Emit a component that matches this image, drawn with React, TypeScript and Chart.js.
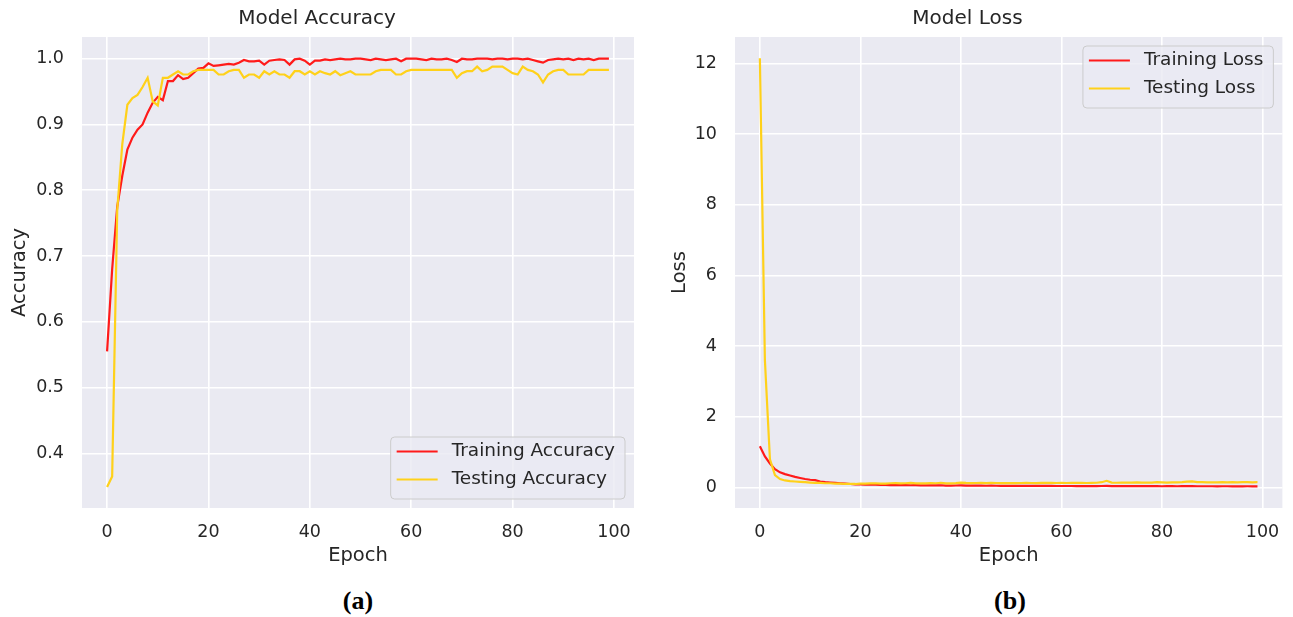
import React, { useEffect, useRef } from 'react';
import { Chart, registerables } from 'chart.js';

Chart.register(...registerables);

// ---------- data ----------
const epochs: number[] = Array.from({ length: 100 }, (_, i) => i);

const trainAcc: number[] = [
  0.555, 0.68, 0.775, 0.822, 0.862, 0.88, 0.892, 0.9, 0.918, 0.933,
  0.942, 0.937, 0.966, 0.966, 0.975, 0.969, 0.971, 0.978, 0.985, 0.986,
  0.993, 0.989, 0.99, 0.991, 0.992, 0.991, 0.994, 0.998, 0.996, 0.996,
  0.997, 0.991, 0.997, 0.998, 0.999, 0.998, 0.991, 0.999, 1.0, 0.997,
  0.991, 0.997, 0.997, 0.999, 0.998, 0.999, 1.0, 0.999, 0.999, 1.0,
  1.0, 0.999, 0.998, 1.0, 0.999, 0.998, 0.999, 1.0, 0.996, 1.0,
  1.0, 1.0, 0.999, 0.998, 1.0, 0.999, 0.999, 1.0, 0.998, 0.995,
  1.0, 0.999, 0.999, 1.0, 1.0, 1.0, 0.999, 1.0, 1.0, 0.999,
  1.0, 1.0, 0.999, 1.0, 0.998, 0.996, 0.994, 0.998, 0.999, 1.0,
  0.999, 1.0, 0.998, 1.0, 0.999, 1.0, 0.998, 1.0, 1.0, 1.0,
];

const testAcc: number[] = [
  0.349, 0.365, 0.77, 0.87, 0.93, 0.94, 0.945, 0.957, 0.971, 0.935,
  0.929, 0.971, 0.971, 0.976, 0.981, 0.976, 0.976, 0.981, 0.983, 0.983,
  0.983, 0.983, 0.976, 0.976, 0.981, 0.983, 0.983, 0.971, 0.976, 0.976,
  0.971, 0.981, 0.976, 0.981, 0.976, 0.976, 0.971, 0.981, 0.981, 0.976,
  0.981, 0.976, 0.981, 0.978, 0.976, 0.981, 0.975, 0.978, 0.981, 0.976,
  0.976, 0.976, 0.976, 0.981, 0.983, 0.983, 0.983, 0.976, 0.976, 0.981,
  0.983, 0.983, 0.983, 0.983, 0.983, 0.983, 0.983, 0.983, 0.983, 0.971,
  0.978, 0.981, 0.981, 0.988, 0.981, 0.983, 0.988, 0.988, 0.988, 0.983,
  0.978, 0.976, 0.988, 0.983, 0.981, 0.976, 0.964, 0.976, 0.981, 0.983,
  0.983, 0.976, 0.976, 0.976, 0.976, 0.983, 0.983, 0.983, 0.983, 0.983,
];

const trainLoss: number[] = [
  1.17, 0.88, 0.68, 0.52, 0.43, 0.38, 0.34, 0.3, 0.27, 0.24,
  0.22, 0.21, 0.17, 0.15, 0.14, 0.13, 0.12, 0.11, 0.1, 0.09,
  0.085, 0.082, 0.08, 0.078, 0.075, 0.076, 0.07, 0.068, 0.07, 0.066,
  0.064, 0.068, 0.062, 0.06, 0.061, 0.058, 0.064, 0.056, 0.055, 0.057,
  0.062, 0.055, 0.054, 0.052, 0.053, 0.05, 0.051, 0.05, 0.049, 0.048,
  0.047, 0.048, 0.05, 0.046, 0.047, 0.046, 0.045, 0.044, 0.047, 0.043,
  0.042, 0.043, 0.042, 0.041, 0.043, 0.04, 0.041, 0.04, 0.042, 0.046,
  0.039, 0.04, 0.039, 0.038, 0.038, 0.039, 0.037, 0.038, 0.037, 0.038,
  0.036, 0.037, 0.038, 0.036, 0.037, 0.039, 0.041, 0.036, 0.035, 0.035,
  0.036, 0.034, 0.035, 0.036, 0.034, 0.033, 0.034, 0.035, 0.033, 0.033,
];

const testLoss: number[] = [
  12.15, 3.6, 0.8, 0.35, 0.24, 0.2, 0.18, 0.17, 0.16, 0.15,
  0.14, 0.13, 0.13, 0.12, 0.12, 0.11, 0.11, 0.1, 0.1, 0.1,
  0.11, 0.11, 0.115, 0.12, 0.11, 0.108, 0.12, 0.125, 0.118, 0.12,
  0.13, 0.115, 0.12, 0.118, 0.125, 0.12, 0.135, 0.115, 0.118, 0.125,
  0.14, 0.13, 0.125, 0.128, 0.132, 0.125, 0.13, 0.128, 0.122, 0.125,
  0.126, 0.125, 0.128, 0.13, 0.127, 0.125, 0.132, 0.135, 0.13, 0.128,
  0.13, 0.128, 0.13, 0.132, 0.13, 0.128, 0.13, 0.135, 0.15, 0.19,
  0.14, 0.135, 0.14, 0.138, 0.14, 0.145, 0.14, 0.142, 0.14, 0.15,
  0.145, 0.14, 0.148, 0.145, 0.15, 0.165, 0.175, 0.155, 0.15, 0.148,
  0.145, 0.148, 0.15, 0.145, 0.15, 0.148, 0.152, 0.15, 0.148, 0.15,
];

const xTicks: number[] = [0, 20, 40, 60, 80, 100];
const accTicks: number[] = [0.4, 0.5, 0.6, 0.7, 0.8, 0.9, 1.0];
const lossTicks: number[] = [0, 2, 4, 6, 8, 10, 12];

const accLabels: string[] = ['Training Accuracy', 'Testing Accuracy'];
const lossLabels: string[] = ['Training Loss', 'Testing Loss'];

// ---------- style ----------
const BG = '#EAEAF2';
const TEXT = '#262626';
const FONT = '"DejaVu Sans", sans-serif';
const RED = '#ff1a1a';
const GOLD = '#ffd11a';

const bgPlugin = {
  id: 'axesBg',
  beforeDraw(chart: any) {
    const { ctx, chartArea } = chart;
    if (!chartArea) return;
    ctx.save();
    ctx.fillStyle = BG;
    ctx.fillRect(chartArea.left, chartArea.top, chartArea.right - chartArea.left, chartArea.bottom - chartArea.top);
    ctx.restore();
  },
};

const legendPlugin = {
  id: 'insideLegend',
  afterDatasetsDraw(chart: any, _args: any, opts: any) {
    const { ctx, chartArea } = chart;
    const fontSize = opts.fontSize || 18.5;
    ctx.save();
    ctx.font = `${fontSize}px ${FONT}`;
    const items = chart.data.datasets.map((ds: any) => ({ label: ds.label, color: ds.borderColor }));
    const textW = Math.max(...items.map((i: any) => ctx.measureText(i.label).width));
    const padL = 6, handle = 41, gap = 14, padR = 10;
    const w = padL + handle + gap + textW + padR;
    const h = 62;
    const inset = opts.inset ?? 9;
    const x = chartArea.right - inset - w;
    const y = opts.corner === 'lower' ? chartArea.bottom - inset - h : chartArea.top + inset;
    ctx.beginPath();
    if ((ctx as any).roundRect) (ctx as any).roundRect(x, y, w, h, 4);
    else ctx.rect(x, y, w, h);
    ctx.fillStyle = 'rgba(234,234,242,0.8)';
    ctx.fill();
    ctx.strokeStyle = '#cccccc';
    ctx.lineWidth = 1;
    ctx.stroke();
    items.forEach((it: any, i: number) => {
      const cy = y + 14.5 + i * 28;
      ctx.beginPath();
      ctx.strokeStyle = it.color;
      ctx.lineWidth = 2.2;
      ctx.moveTo(x + padL, cy);
      ctx.lineTo(x + padL + handle, cy);
      ctx.stroke();
      ctx.fillStyle = TEXT;
      ctx.textBaseline = 'middle';
      ctx.textAlign = 'left';
      ctx.fillText(it.label, x + padL + handle + gap, cy);
    });
    ctx.restore();
  },
};

type PanelParams = {
  title: string;
  yTitle: string;
  labels: string[];
  train: number[];
  test: number[];
  yMin: number;
  yMax: number;
  yTicks: number[];
  decimals: number;
  yWidth: number;
  yTitlePad: number;
  padRight: number;
  corner: 'lower' | 'upper';
  height: number;
  bottom: number;
};

function makeChart(canvas: HTMLCanvasElement, p: PanelParams) {
  return new Chart(canvas, {
    type: 'line',
    data: {
      datasets: [
        {
          label: p.labels[0],
          data: epochs.map((e, i) => ({ x: e, y: p.train[i] })),
          borderColor: RED,
          backgroundColor: RED,
          borderWidth: 2.2,
          pointRadius: 0,
          tension: 0,
          order: 2,
        },
        {
          label: p.labels[1],
          data: epochs.map((e, i) => ({ x: e, y: p.test[i] })),
          borderColor: GOLD,
          backgroundColor: GOLD,
          borderWidth: 2.2,
          pointRadius: 0,
          tension: 0,
          order: 1,
        },
      ],
    },
    options: {
      responsive: false,
      animation: false,
      events: [],
      layout: { padding: { left: 0, right: p.padRight, top: 0, bottom: 0 } },
      plugins: {
        legend: { display: false },
        tooltip: { enabled: false },
        title: {
          display: true,
          text: p.title,
          color: TEXT,
          font: { family: FONT, size: 20, weight: 'normal' as any, lineHeight: 1.2 },
          padding: { top: 7, bottom: 6 },
        },
        insideLegend: { corner: p.corner, inset: 9, fontSize: 18.5 },
      } as any,
      scales: {
        x: {
          type: 'linear',
          min: -4.95,
          max: 103.95,
          afterBuildTicks: (s: any) => {
            s.ticks = xTicks.map((v) => ({ value: v }));
          },
          afterFit: (s: any) => {
            s.height = p.height - p.bottom;
          },
          grid: { color: '#ffffff', lineWidth: 1.6, drawTicks: false },
          border: { display: false },
          ticks: {
            color: TEXT,
            font: { family: FONT, size: 17.5 },
            padding: 13.5,
            maxRotation: 0,
            autoSkip: false,
            callback: (v: any) => String(v),
          },
          title: {
            display: true,
            text: 'Epoch',
            color: TEXT,
            font: { family: FONT, size: 19.5 },
            padding: { top: 0, bottom: 12.3 },
          },
        },
        y: {
          type: 'linear',
          min: p.yMin,
          max: p.yMax,
          afterBuildTicks: (s: any) => {
            s.ticks = p.yTicks.map((v) => ({ value: v }));
          },
          afterFit: (s: any) => {
            s.width = p.yWidth;
          },
          grid: { color: '#ffffff', lineWidth: 1.6, drawTicks: false },
          border: { display: false },
          ticks: {
            color: TEXT,
            font: { family: FONT, size: 17.5 },
            padding: 18,
            autoSkip: false,
            callback: (v: any) => Number(v).toFixed(p.decimals),
          },
          title: {
            display: true,
            text: p.yTitle,
            color: TEXT,
            font: { family: FONT, size: 19.5 },
            padding: { top: p.yTitlePad, bottom: 0 },
          },
        },
      },
    } as any,
    plugins: [bgPlugin, legendPlugin],
  });
}

const H = 580;

export default function App() {
  const leftRef = useRef<HTMLCanvasElement | null>(null);
  const rightRef = useRef<HTMLCanvasElement | null>(null);

  useEffect(() => {
    const c1 = makeChart(leftRef.current!, {
      title: 'Model Accuracy',
      yTitle: 'Accuracy',
      labels: accLabels,
      train: trainAcc,
      test: testAcc,
      yMin: 0.317,
      yMax: 1.033,
      yTicks: accTicks,
      decimals: 1,
      yWidth: 82,
      yTitlePad: 7.8,
      padRight: 16,
      corner: 'lower',
      height: H,
      bottom: 508,
    });
    const c2 = makeChart(rightRef.current!, {
      title: 'Model Loss',
      yTitle: 'Loss',
      labels: lossLabels,
      train: trainLoss,
      test: testLoss,
      yMin: -0.58,
      yMax: 12.75,
      yTicks: lossTicks,
      decimals: 0,
      yWidth: 85,
      yTitlePad: 18.3,
      padRight: 8,
      corner: 'upper',
      height: H,
      bottom: 508,
    });
    return () => {
      c1.destroy();
      c2.destroy();
    };
  }, []);

  const capStyle: React.CSSProperties = {
    position: 'absolute',
    top: 586,
    width: 120,
    height: 30,
    lineHeight: '30px',
    textAlign: 'center',
    fontFamily: '"Liberation Serif", "Times New Roman", serif',
    fontWeight: 'bold',
    fontSize: 26,
    color: '#000',
  };

  return (
    <div
      style={{
        position: 'absolute',
        left: 0,
        top: 0,
        width: 1293,
        height: 617,
        background: '#ffffff',
        overflow: 'hidden',
      }}
    >
      <canvas
        ref={leftRef}
        width={650}
        height={H}
        style={{ position: 'absolute', left: 0, top: 0, width: 650, height: H }}
      />
      <canvas
        ref={rightRef}
        width={643}
        height={H}
        style={{ position: 'absolute', left: 650, top: 0, width: 643, height: H }}
      />
      <div style={{ ...capStyle, left: 358 - 60 }}>(a)</div>
      <div style={{ ...capStyle, left: 1010 - 60 }}>(b)</div>
    </div>
  );
}
